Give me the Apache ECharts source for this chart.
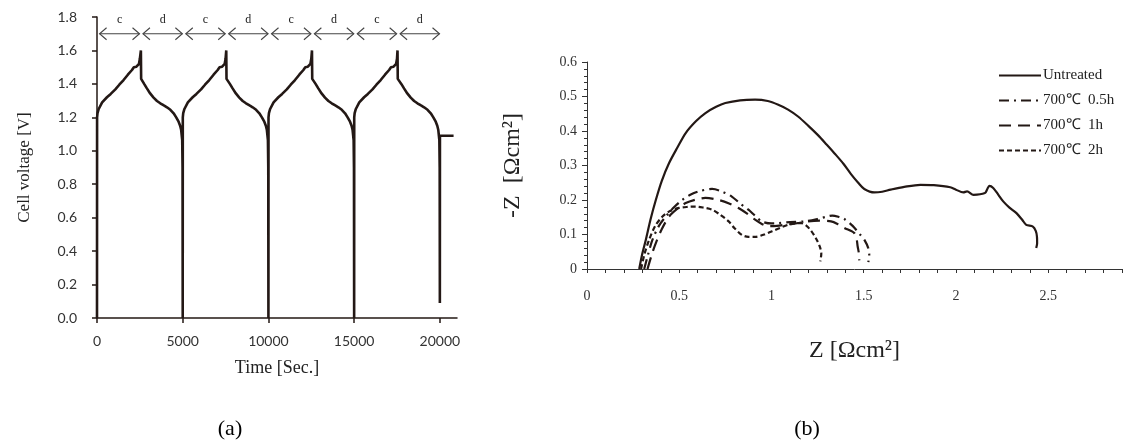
<!DOCTYPE html>
<html>
<head>
<meta charset="utf-8">
<script src="https://cdn.jsdelivr.net/npm/echarts@6/dist/echarts.min.js"></script>
<style>
    html, body { margin: 0; padding: 0; background: #ffffff; }
    #chart { width: 1125px; height: 440px; }
</style>
</head>
<body>
<div id="chart"></div>
<script>
// (a) cell voltage vs time, one array per charge/discharge cycle [time s, voltage V]
const cycle1 = [[0, 0], [5, 1.20], [30, 1.225], [100, 1.25], [300, 1.29], [580, 1.32], [800, 1.34], [1070, 1.367], [1300, 1.395], [1550, 1.423], [1800, 1.455], [2040, 1.483], [2150, 1.50], [2230, 1.509], [2300, 1.503], [2390, 1.503], [2450, 1.52], [2500, 1.55], [2560, 1.60], [2575, 1.43], [2750, 1.40], [2910, 1.373], [3100, 1.343], [3300, 1.318], [3500, 1.298], [3690, 1.284], [3900, 1.271], [4080, 1.26], [4280, 1.245], [4470, 1.224], [4620, 1.20], [4760, 1.174], [4850, 1.15], [4910, 1.124], [4970, 1.064], [4990, 0.9], [5000, 0]];
const cycle2 = [[5005, 1.20], [5030, 1.225], [5100, 1.25], [5300, 1.29], [5580, 1.32], [5800, 1.34], [6070, 1.367], [6300, 1.395], [6550, 1.423], [6800, 1.455], [7040, 1.483], [7150, 1.50], [7230, 1.509], [7300, 1.503], [7390, 1.503], [7450, 1.52], [7500, 1.55], [7540, 1.60], [7555, 1.43], [7750, 1.40], [7910, 1.373], [8100, 1.343], [8300, 1.318], [8500, 1.298], [8690, 1.284], [8900, 1.271], [9080, 1.26], [9280, 1.245], [9470, 1.224], [9620, 1.20], [9760, 1.174], [9850, 1.15], [9910, 1.124], [9970, 1.064], [9990, 0.9], [10000, 0]];
const cycle3 = [[10005, 1.20], [10030, 1.225], [10100, 1.25], [10300, 1.29], [10580, 1.32], [10800, 1.34], [11070, 1.367], [11300, 1.395], [11550, 1.423], [11800, 1.455], [12040, 1.483], [12150, 1.50], [12230, 1.509], [12300, 1.503], [12390, 1.503], [12450, 1.52], [12500, 1.55], [12540, 1.60], [12555, 1.43], [12750, 1.40], [12910, 1.373], [13100, 1.343], [13300, 1.318], [13500, 1.298], [13690, 1.284], [13900, 1.271], [14080, 1.26], [14280, 1.245], [14470, 1.224], [14620, 1.20], [14760, 1.174], [14850, 1.15], [14910, 1.124], [14970, 1.064], [14990, 0.9], [15000, 0]];
const cycle4 = [[15005, 1.20], [15030, 1.225], [15100, 1.25], [15300, 1.29], [15580, 1.32], [15800, 1.34], [16070, 1.367], [16300, 1.395], [16550, 1.423], [16800, 1.455], [17040, 1.483], [17150, 1.50], [17230, 1.509], [17300, 1.503], [17390, 1.503], [17450, 1.52], [17500, 1.55], [17530, 1.60], [17545, 1.43], [17750, 1.40], [17910, 1.373], [18100, 1.343], [18300, 1.318], [18500, 1.298], [18690, 1.284], [18900, 1.271], [19080, 1.26], [19280, 1.245], [19470, 1.224], [19620, 1.20], [19760, 1.174], [19850, 1.15], [19910, 1.124], [19970, 1.064], [19990, 0.9], [20000, 0.09], [20005, 1.09], [20800, 1.09]];

// c / d arrows above the cycles
const arrowStart = [150, 2680, 5180, 7680, 10180, 12680, 15180, 17680];
const arrowEnd = [2480, 4980, 7480, 9980, 12480, 14980, 17480, 19980];
const arrowLabels = ['c', 'd', 'c', 'd', 'c', 'd', 'c', 'd'];
const arrowY = 1.70;
const timeTicks = [0, 5000, 10000, 15000, 20000];

// (b) impedance spectra [Z, -Z]
const untreated = [[0.283, 0], [0.30, 0.045], [0.319, 0.085], [0.345, 0.145], [0.373, 0.20], [0.405, 0.255], [0.445, 0.307], [0.49, 0.352], [0.535, 0.394], [0.59, 0.428], [0.642, 0.452], [0.70, 0.47], [0.75, 0.481], [0.83, 0.489], [0.911, 0.491], [0.98, 0.487], [1.037, 0.476], [1.09, 0.462], [1.144, 0.442], [1.20, 0.415], [1.252, 0.388], [1.30, 0.36], [1.342, 0.335], [1.39, 0.305], [1.431, 0.275], [1.47, 0.25], [1.503, 0.232], [1.557, 0.222], [1.60, 0.224], [1.646, 0.23], [1.72, 0.238], [1.807, 0.244], [1.88, 0.243], [1.969, 0.237], [2.00, 0.23], [2.04, 0.222], [2.06, 0.225], [2.095, 0.215], [2.157, 0.22], [2.17, 0.232], [2.181, 0.241], [2.202, 0.235], [2.23, 0.215], [2.256, 0.196], [2.29, 0.178], [2.328, 0.162], [2.36, 0.142], [2.381, 0.128], [2.417, 0.123], [2.433, 0.11], [2.439, 0.094], [2.44, 0.075], [2.435, 0.061]];
const h05 = [[0.31, 0], [0.33, 0.04], [0.355, 0.085], [0.39, 0.125], [0.427, 0.152], [0.47, 0.178], [0.516, 0.20], [0.56, 0.215], [0.606, 0.225], [0.678, 0.232], [0.73, 0.225], [0.785, 0.21], [0.83, 0.19], [0.875, 0.172], [0.91, 0.155], [0.947, 0.138], [1.0, 0.132], [1.037, 0.133], [1.10, 0.136], [1.18, 0.138], [1.25, 0.145], [1.30, 0.152], [1.33, 0.155], [1.37, 0.15], [1.395, 0.145], [1.44, 0.125], [1.48, 0.10], [1.503, 0.085], [1.525, 0.06], [1.53, 0.04], [1.525, 0.02]];
const h1 = [[0.328, 0], [0.35, 0.04], [0.373, 0.075], [0.405, 0.115], [0.445, 0.152], [0.49, 0.175], [0.535, 0.191], [0.59, 0.201], [0.642, 0.206], [0.714, 0.20], [0.77, 0.19], [0.821, 0.177], [0.87, 0.16], [0.911, 0.143], [0.95, 0.13], [0.983, 0.124], [1.03, 0.125], [1.073, 0.128], [1.14, 0.133], [1.198, 0.138], [1.26, 0.14], [1.323, 0.138], [1.36, 0.13], [1.395, 0.119], [1.449, 0.104], [1.462, 0.085], [1.467, 0.066], [1.474, 0.045], [1.476, 0.025]];
const h2 = [[0.293, 0], [0.31, 0.04], [0.337, 0.085], [0.37, 0.125], [0.409, 0.152], [0.45, 0.168], [0.499, 0.177], [0.545, 0.18], [0.588, 0.181], [0.63, 0.178], [0.678, 0.172], [0.72, 0.158], [0.768, 0.138], [0.80, 0.118], [0.839, 0.099], [0.875, 0.093], [0.911, 0.093], [0.96, 0.10], [1.001, 0.109], [1.05, 0.12], [1.09, 0.128], [1.13, 0.132], [1.162, 0.133], [1.19, 0.125], [1.216, 0.11], [1.24, 0.09], [1.261, 0.066], [1.27, 0.045], [1.265, 0.022]];
const seriesNames = ['Untreated', '700℃  0.5h', '700℃  1h', '700℃  2h'];

const ink = '#231815';
const serif = '"Liberation Serif", "Times New Roman", serif';

const chart = echarts.init(document.getElementById('chart'));

const curveStyle = (type) => ({ color: ink, width: 2.2, type: type });

// double-headed open arrow with its letter, placed through the axes
const renderArrow = (params, api) => {
    const p0 = api.coord([api.value(0), api.value(2)]);
    const p1 = api.coord([api.value(1), api.value(2)]);
    const stroke = { stroke: '#444', lineWidth: 1.1, fill: null };
    return {
        type: 'group',
        children: [
            { type: 'line', shape: { x1: p0[0], y1: p0[1], x2: p1[0], y2: p1[1] }, style: stroke },
            { type: 'polyline', shape: { points: [[p0[0] + 7, p0[1] - 6], [p0[0], p0[1]], [p0[0] + 7, p0[1] + 6]] }, style: stroke },
            { type: 'polyline', shape: { points: [[p1[0] - 7, p1[1] - 6], [p1[0], p1[1]], [p1[0] - 7, p1[1] + 6]] }, style: stroke },
            {
                type: 'text',
                style: {
                    text: arrowLabels[api.value(3)],
                    x: (p0[0] + p1[0]) / 2,
                    y: p0[1] - 8,
                    align: 'center',
                    verticalAlign: 'bottom',
                    font: '12px ' + serif,
                    fill: '#222'
                }
            }
        ]
    };
};

const option = {
    backgroundColor: '#ffffff',
    animation: false,
    title: [
        { text: '(a)', left: 225, top: 413, textAlign: 'center', textStyle: { fontFamily: serif, fontSize: 22, fontWeight: 'normal', color: '#000' } },
        { text: '(b)', left: 802, top: 413, textAlign: 'center', textStyle: { fontFamily: serif, fontSize: 22, fontWeight: 'normal', color: '#000' } }
    ],
    legend: {
        orient: 'vertical',
        left: 993,
        top: 63,
        itemWidth: 42,
        itemHeight: 14,
        itemGap: 10,
        data: seriesNames,
        itemStyle: { opacity: 0 },
        textStyle: { fontFamily: serif, fontSize: 15, color: '#222', padding: [0, 0, 0, -3] }
    },
    grid: [
        { left: 97, top: 17, right: 668, bottom: 122 },
        { left: 587, top: 62, right: 0, bottom: 171 }
    ],
    xAxis: [{
        gridIndex: 0,
        type: 'value',
        min: 0,
        max: 21000,
        interval: 5000,
        name: 'Time [Sec.]',
        nameLocation: 'middle',
        nameGap: 41,
        nameTextStyle: { fontFamily: serif, fontSize: 18, color: '#222' },
        axisLine: { lineStyle: { color: ink, width: 1.5 } },
        axisTick: { length: 5, customValues: timeTicks, lineStyle: { color: ink, width: 1.5 } },
        axisLabel: {
            margin: 16,
            fontFamily: 'Lato',
            fontSize: 14,
            color: '#333',
            formatter: (v) => v > 20000 ? '' : String(v)
        },
        splitLine: { show: false }
    }, {
        gridIndex: 1,
        type: 'value',
        min: 0,
        max: 2.9,
        interval: 0.1,
        name: 'Z [Ωcm²]',
        nameLocation: 'middle',
        nameGap: 70,
        nameTextStyle: { fontFamily: serif, fontSize: 24, color: '#222' },
        axisLine: { lineStyle: { color: '#333', width: 1 } },
        axisTick: { length: 4, lineStyle: { color: '#333' } },
        axisLabel: {
            margin: 20,
            fontFamily: serif,
            fontSize: 14,
            color: '#333',
            formatter: (v) => {
                const r = Math.round(v * 2);
                if (Math.abs(v * 2 - r) > 1e-6 || v > 2.6) return '';
                return String(r / 2);
            }
        },
        splitLine: { show: false }
    }],
    yAxis: [{
        gridIndex: 0,
        type: 'value',
        min: 0,
        max: 1.8,
        interval: 0.2,
        name: 'Cell voltage [V]',
        nameLocation: 'middle',
        nameGap: 64,
        nameTextStyle: { fontFamily: serif, fontSize: 17, color: '#222' },
        axisLine: { show: true, lineStyle: { color: ink, width: 1.5 } },
        axisTick: { show: true, length: 5, lineStyle: { color: ink, width: 1.5 } },
        axisLabel: {
            margin: 20,
            fontFamily: 'Lato',
            fontSize: 14,
            color: '#333',
            formatter: (v) => v.toFixed(1)
        },
        splitLine: { show: false }
    }, {
        gridIndex: 1,
        type: 'value',
        min: 0,
        max: 0.6,
        interval: 0.1,
        name: '-Z  [Ωcm²]',
        nameLocation: 'middle',
        nameGap: 62,
        nameTextStyle: { fontFamily: serif, fontSize: 24, color: '#222' },
        axisLine: { show: true, lineStyle: { color: '#333', width: 1 } },
        axisTick: { show: true, length: 5, lineStyle: { color: '#333' } },
        minorTick: { show: true, splitNumber: 5, length: 3, lineStyle: { color: '#333' } },
        axisLabel: { margin: 10, fontFamily: serif, fontSize: 14, color: '#333' },
        splitLine: { show: false }
    }],
    series: [{
        name: 'voltage',
        type: 'line',
        xAxisIndex: 0,
        yAxisIndex: 0,
        showSymbol: false,
        symbol: 'none',
        lineStyle: { color: ink, width: 2.6 },
        data: cycle1.concat(cycle2, cycle3, cycle4)
    }, {
        name: 'arrows',
        type: 'custom',
        xAxisIndex: 0,
        yAxisIndex: 0,
        silent: true,
        clip: false,
        encode: { x: [0, 1], y: 2 },
        renderItem: renderArrow,
        data: arrowStart.map((s, i) => [s, arrowEnd[i], arrowY, i])
    }, {
        name: seriesNames[0],
        type: 'line',
        xAxisIndex: 1,
        yAxisIndex: 1,
        symbol: 'none',
        smooth: 0.3,
        lineStyle: curveStyle('solid'),
        itemStyle: { color: ink },
        data: untreated
    }, {
        name: seriesNames[1],
        type: 'line',
        xAxisIndex: 1,
        yAxisIndex: 1,
        symbol: 'none',
        smooth: 0.3,
        lineStyle: curveStyle([10, 5, 2, 5]),
        itemStyle: { color: ink },
        data: h05
    }, {
        name: seriesNames[2],
        type: 'line',
        xAxisIndex: 1,
        yAxisIndex: 1,
        symbol: 'none',
        smooth: 0.3,
        lineStyle: curveStyle([12, 7]),
        itemStyle: { color: ink },
        data: h1
    }, {
        name: seriesNames[3],
        type: 'line',
        xAxisIndex: 1,
        yAxisIndex: 1,
        symbol: 'none',
        smooth: 0.3,
        lineStyle: curveStyle([5, 3]),
        itemStyle: { color: ink },
        data: h2
    }]
};

chart.setOption(option);
</script>
</body>
</html>
